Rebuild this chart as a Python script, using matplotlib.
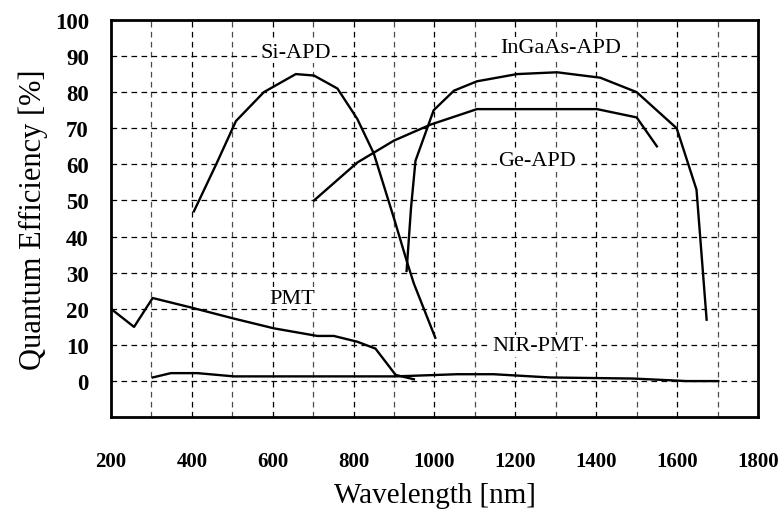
import matplotlib.pyplot as plt
from matplotlib.ticker import MultipleLocator

# curve data (wavelength nm, quantum efficiency %)
si_apd_wl = [405, 460, 509, 578, 657, 702, 760, 809, 850, 900, 932, 949, 1002]
si_apd_qe = [47, 60, 72, 80, 85, 84.6, 81, 72.6, 63, 45, 33, 27, 12]

ingaas_wl = [931, 942, 953, 998, 1048, 1105, 1204, 1303, 1410, 1500, 1599, 1648, 1673]
ingaas_qe = [30.5, 48, 61, 75, 80.4, 83, 85, 85.5, 84, 80, 70, 53, 17]

ge_wl = [702, 809, 900, 990, 1105, 1402, 1500, 1550]
ge_qe = [50, 60.5, 66.6, 71, 75.3, 75.3, 73, 65]

pmt_wl = [200, 257, 303, 397, 504, 603, 710, 751, 809, 854, 904, 949]
pmt_qe = [20, 15, 23, 20.4, 17.3, 14.6, 12.5, 12.5, 10.9, 9, 1.7, 0.5]

nir_wl = [303, 348, 414, 504, 904, 1056, 1146, 1286, 1492, 1624, 1702]
nir_qe = [1, 2.2, 2.2, 1.3, 1.3, 1.9, 1.9, 1.0, 0.7, 0, 0]

labels = ["Si-APD", "InGaAs-APD", "Ge-APD", "PMT", "NIR-PMT"]
label_pos = [(657, 91), (1311, 92.4), (1254, 61), (649, 23), (1257, 9.8)]

plt.rcParams['font.family'] = ['Liberation Serif', 'DejaVu Serif']

fig = plt.figure(figsize=(7.79, 5.10), dpi=100)
ax = fig.add_axes([0.1425, 0.180, 0.8305, 0.779])

for wl, qe in [(si_apd_wl, si_apd_qe), (ingaas_wl, ingaas_qe), (ge_wl, ge_qe),
               (pmt_wl, pmt_qe), (nir_wl, nir_qe)]:
    ax.plot(wl, qe, color='black', lw=1.7, zorder=3)

for name, (x, y) in zip(labels, label_pos):
    ax.text(x, y, name, ha='center', va='center', fontsize=16, zorder=4,
            bbox=dict(facecolor='white', edgecolor='none', pad=1))

ax.set_xlim(200, 1800)
ax.set_ylim(-10, 100)
ax.xaxis.set_major_locator(MultipleLocator(200))
ax.set_yticks(range(0, 101, 10))

# dashed grid: every 100 nm, every 10 %
for x in range(300, 1800, 100):
    ax.axvline(x, color='black', lw=0.9, ls=(0, (4.5, 3.5)), alpha=0.7 if x % 200 else 1.0, zorder=1)
for y in range(0, 100, 10):
    ax.axhline(y, color='black', lw=0.9, ls=(0, (4.5, 3.5)), zorder=1)

ax.tick_params(axis='x', length=0, labelsize=15, pad=24)
ax.tick_params(axis='y', length=0, labelsize=16.5, pad=16)
for lbl in ax.get_xticklabels() + ax.get_yticklabels():
    lbl.set_fontweight('bold')
for s in ax.spines.values():
    s.set_linewidth(2)

ax.set_xlabel('Wavelength [nm]', fontsize=21, labelpad=8)
ax.set_ylabel('Quantum Efficiency [%]', fontsize=22, labelpad=5)

fig.savefig('out.png', dpi=100)
